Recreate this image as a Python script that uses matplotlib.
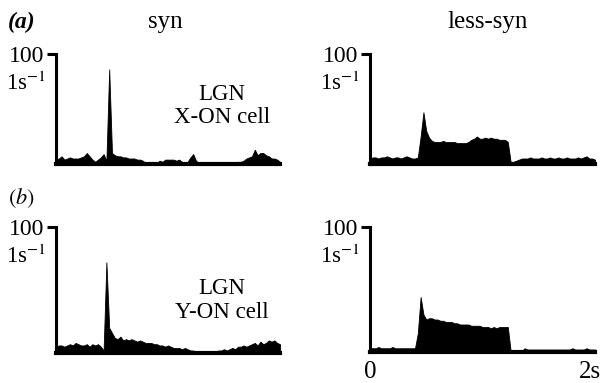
import numpy as np
import matplotlib.pyplot as plt

plt.rcParams['font.family'] = ['Liberation Serif', 'DejaVu Serif']
plt.rcParams['mathtext.fontset'] = 'stix'

# PSTH values (spikes/s), one value every 25 ms from 0 to 2 s
BIN_S = 0.025

x_on_syn = [4, 5, 7, 4, 5, 6, 5, 5, 5, 6, 7, 10, 7, 4, 2, 4, 6, 9, 3, 86,
            10, 8, 7, 7, 6, 6, 5, 5, 5, 4, 4, 3, 1, 1, 1, 2, 1, 3, 2, 4,
            4, 4, 4, 3, 4, 2, 1, 2, 6, 9, 3, 1, 1, 1, 1, 1, 1, 1, 1, 1,
            1, 1, 1, 1, 1, 2, 2, 3, 5, 6, 7, 13, 8, 10, 10, 8, 7, 5, 5, 4,
            2]

x_on_less_syn = [5, 6, 6, 5, 6, 6, 7, 6, 5, 6, 6, 5, 6, 7, 6, 5, 5, 6, 25, 47,
                 30, 24, 21, 20, 20, 20, 21, 20, 20, 20, 20, 19, 19, 19, 19, 20, 22, 23, 25, 23,
                 23, 24, 23, 24, 23, 23, 22, 22, 22, 20, 2, 2, 3, 4, 5, 5, 5, 6, 5, 5,
                 5, 6, 5, 5, 6, 5, 5, 6, 5, 5, 6, 5, 5, 5, 6, 5, 6, 7, 5, 5,
                 4]

y_on_syn = [5, 6, 6, 5, 6, 7, 6, 8, 7, 6, 6, 7, 5, 7, 6, 7, 5, 2, 72, 20,
            16, 12, 11, 13, 10, 11, 10, 11, 10, 9, 10, 9, 8, 8, 8, 7, 7, 6, 6, 5,
            6, 5, 4, 4, 4, 3, 4, 3, 2, 2, 1, 1, 1, 1, 1, 1, 1, 1, 2, 2,
            3, 2, 3, 4, 3, 5, 5, 6, 5, 6, 7, 8, 6, 9, 7, 8, 10, 9, 10, 8,
            7]

y_on_less_syn = [3, 3, 3, 4, 3, 3, 3, 3, 4, 3, 3, 3, 3, 3, 3, 3, 3, 15, 44, 30,
                 26, 27, 27, 26, 26, 25, 25, 24, 24, 24, 23, 23, 22, 22, 22, 22, 21, 21, 21, 21,
                 20, 20, 20, 19, 20, 19, 20, 20, 20, 20, 1, 1, 1, 1, 1, 3, 2, 2, 2, 2,
                 2, 2, 2, 2, 2, 2, 2, 2, 2, 2, 2, 2, 3, 2, 2, 2, 2, 3, 2, 2,
                 2]

W, H = 605, 383
fig = plt.figure(figsize=(W / 100, H / 100), dpi=100)


def add_panel(vals, left, top, right, bottom):
    ax = fig.add_axes([left / W, 1 - bottom / H, (right - left) / W, (bottom - top) / H])
    t = np.arange(len(vals)) * BIN_S
    ax.fill_between(t, 0, vals, color='black', lw=0.6)
    ax.set_xlim(0, 2)
    ax.set_ylim(0, 100)
    ax.patch.set_visible(False)
    for s in ['top', 'right']:
        ax.spines[s].set_visible(False)
    ax.spines['left'].set_linewidth(2.2)
    ax.spines['left'].set_bounds(0, 100)
    ax.spines['bottom'].set_linewidth(3)
    ax.set_xticks([])
    ax.set_yticks([100])
    ax.set_yticklabels(['100'])
    ax.tick_params(axis='y', length=6.5, width=2.2, pad=2, labelsize=17)
    ax.annotate('1s$^{-1}$', xy=(0, 100), xycoords=('axes fraction', 'data'),
                xytext=(-7, -21), textcoords='offset points',
                ha='right', va='center', fontsize=16.5)
    return ax


add_panel(x_on_syn, 56, 54, 280, 164)
add_panel(x_on_less_syn, 370, 54, 595, 164)
add_panel(y_on_syn, 56, 227, 280, 353)
add_panel(y_on_less_syn, 370, 227, 595, 352)


def ftext(x, y, s, **kw):
    fig.text(x / W, 1 - y / H, s, ha='center', va='center', **kw)


ftext(22, 22, '(a)', fontsize=17, fontweight='bold', fontstyle='italic')
ftext(165, 22, 'syn', fontsize=18)
ftext(488, 22, 'less-syn', fontsize=18)
ftext(21, 198, '$(b)$', fontsize=16)
ftext(222, 95, 'LGN', fontsize=16.5)
ftext(222, 117, 'X-ON cell', fontsize=16.5)
ftext(222, 288, 'LGN', fontsize=16.5)
ftext(222, 312, 'Y-ON cell', fontsize=16.5)
ftext(370, 372, '0', fontsize=18)
ftext(590, 372, '2s', fontsize=18)

fig.savefig('out.png', dpi=100)
